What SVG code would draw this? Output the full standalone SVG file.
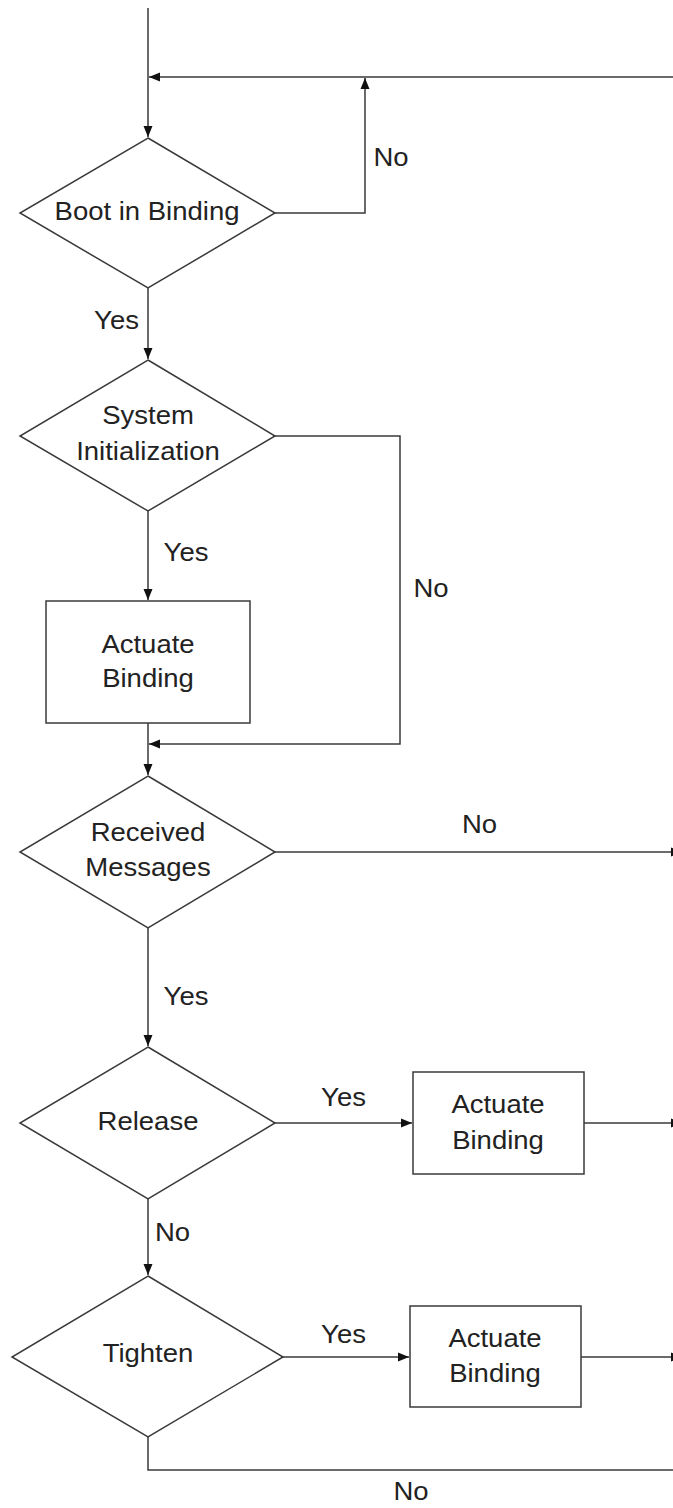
<svg xmlns="http://www.w3.org/2000/svg" width="673" height="1508" viewBox="0 0 673 1508">
<style>
.shape{fill:#fff;stroke:#3a3a3a;stroke-width:1.5}
.conn{fill:none;stroke:#3a3a3a;stroke-width:1.5}
text{font-family:"Liberation Sans",Arial,sans-serif;font-size:25px;fill:#222;text-anchor:middle}
</style>
<defs>
<marker id="arr" markerWidth="12" markerHeight="10" refX="11" refY="5" orient="auto" markerUnits="userSpaceOnUse">
<path d="M0,0.5 L11,5 L0,9.5 Z" fill="#111"/>
</marker>
</defs>
<rect width="673" height="1508" fill="#fff"/>
<g id="connectors">
<path class="conn" d="M148,8 V137" marker-end="url(#arr)"/>
<path class="conn" d="M673,77 H149" marker-end="url(#arr)"/>
<path class="conn" d="M275,213 H365 V78" marker-end="url(#arr)"/>
<path class="conn" d="M148,288 V359" marker-end="url(#arr)"/>
<path class="conn" d="M148,511 V600" marker-end="url(#arr)"/>
<path class="conn" d="M275,436 H400 V744 H149" marker-end="url(#arr)"/>
<path class="conn" d="M148,723 V775" marker-end="url(#arr)"/>
<path class="conn" d="M275,852 H682" marker-end="url(#arr)"/>
<path class="conn" d="M148,928 V1046" marker-end="url(#arr)"/>
<path class="conn" d="M275,1123 H412" marker-end="url(#arr)"/>
<path class="conn" d="M584,1123 H682" marker-end="url(#arr)"/>
<path class="conn" d="M148,1199 V1275" marker-end="url(#arr)"/>
<path class="conn" d="M283,1357 H409" marker-end="url(#arr)"/>
<path class="conn" d="M581,1357 H682" marker-end="url(#arr)"/>
<path class="conn" d="M148,1437 V1470 H673"/>
<text transform="translate(391,166) scale(1.1,1)">No</text>
<text transform="translate(116.5,329) scale(1.1,1)">Yes</text>
<text transform="translate(186,561) scale(1.1,1)">Yes</text>
<text transform="translate(431,597) scale(1.1,1)">No</text>
<text transform="translate(479.5,833) scale(1.1,1)">No</text>
<text transform="translate(186,1005) scale(1.1,1)">Yes</text>
<text transform="translate(343.5,1106) scale(1.1,1)">Yes</text>
<text transform="translate(172.5,1241) scale(1.1,1)">No</text>
<text transform="translate(343.5,1343) scale(1.1,1)">Yes</text>
<text transform="translate(411,1500) scale(1.1,1)">No</text>
</g>
<g id="boot">
<polygon class="shape" points="148,138 275,213 148,288 20,213"/>
<text transform="translate(147,220) scale(1.1,1)">Boot in Binding</text>
</g>
<g id="sysinit">
<polygon class="shape" points="148,360 275,436 148,511 20,436"/>
<text transform="translate(148,424) scale(1.1,1)">System</text>
<text transform="translate(148,460) scale(1.1,1)">Initialization</text>
</g>
<g id="actuate1">
<rect class="shape" x="46" y="601" width="204" height="122"/>
<text transform="translate(148,653) scale(1.1,1)">Actuate</text>
<text transform="translate(148,687) scale(1.1,1)">Binding</text>
</g>
<g id="received">
<polygon class="shape" points="148,776 275,852 148,928 20,852"/>
<text transform="translate(148,841) scale(1.1,1)">Received</text>
<text transform="translate(148,876) scale(1.1,1)">Messages</text>
</g>
<g id="release">
<polygon class="shape" points="148,1047 275,1123 148,1199 20,1123"/>
<text transform="translate(148,1130) scale(1.1,1)">Release</text>
</g>
<g id="actuate2">
<rect class="shape" x="413" y="1072" width="171" height="102"/>
<text transform="translate(498,1113) scale(1.1,1)">Actuate</text>
<text transform="translate(498,1149) scale(1.1,1)">Binding</text>
</g>
<g id="tighten">
<polygon class="shape" points="148,1276 283,1357 148,1437 12,1357"/>
<text transform="translate(148,1362) scale(1.1,1)">Tighten</text>
</g>
<g id="actuate3">
<rect class="shape" x="410" y="1306" width="171" height="101"/>
<text transform="translate(495,1347) scale(1.1,1)">Actuate</text>
<text transform="translate(495,1382) scale(1.1,1)">Binding</text>
</g>
</svg>
